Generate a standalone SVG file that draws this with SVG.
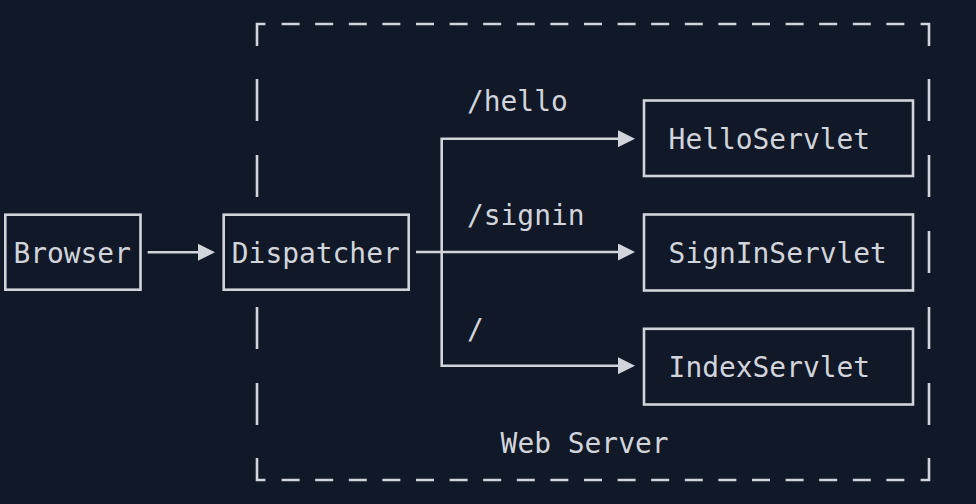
<svg xmlns="http://www.w3.org/2000/svg" width="976" height="504" viewBox="0 0 976 504">
  <style>
    .bg { fill: #111827; }
    .box { fill: none; stroke: #d1d5db; stroke-width: 2.6; }
    .line { fill: none; stroke: #d1d5db; stroke-width: 2.6; stroke-linejoin: miter; }
    .txt { font-family: "DejaVu Sans Mono", "Liberation Mono", monospace; font-size: 27.9px; fill: #d1d5db; }
  </style>
  <defs>
    <marker id="arrow" markerUnits="userSpaceOnUse" markerWidth="17" markerHeight="17" refX="0" refY="8.5" orient="auto">
      <path d="M0,0 L17,8.5 L0,17 Z" fill="#d1d5db"/>
    </marker>
  </defs>
  <rect class="bg" x="0" y="0" width="976" height="504"/>

  <g id="web-server">
    <path class="line" d="M257 46V24H265.4 M920.6 24H929V46 M257 458V480H265.4 M920.6 480H929V458"/>
    <line class="line" x1="281.6" y1="24" x2="904.4" y2="24" stroke-dasharray="18 15.6"/>
    <line class="line" x1="281.6" y1="480" x2="904.4" y2="480" stroke-dasharray="18 15.6"/>
    <path class="line" d="M257 79V121 M257 155V197 M257 307V349 M257 383V425"/>
    <line class="line" x1="929" y1="79" x2="929" y2="425" stroke-dasharray="42 34"/>
    <text class="txt" x="500.6" y="453">Web Server</text>
  </g>

  <g id="browser">
    <rect class="box" x="5.3" y="214.7" width="135.2" height="75"/>
    <text class="txt" x="13.4" y="263">Browser</text>
  </g>

  <g id="dispatcher">
    <rect class="box" x="223.7" y="214.7" width="185" height="75"/>
    <text class="txt" x="231.8" y="263">Dispatcher</text>
  </g>

  <g id="hello-servlet">
    <rect class="box" x="644" y="100.5" width="269" height="75.5"/>
    <text class="txt" x="668.6" y="149">HelloServlet</text>
  </g>

  <g id="signin-servlet">
    <rect class="box" x="644" y="214.5" width="269" height="76"/>
    <text class="txt" x="668.6" y="263">SignInServlet</text>
  </g>

  <g id="index-servlet">
    <rect class="box" x="644" y="328.8" width="269" height="75.7"/>
    <text class="txt" x="668.6" y="377">IndexServlet</text>
  </g>

  <g id="connectors">
    <path class="line" d="M147.7 252.3H198" marker-end="url(#arrow)"/>
    <path class="line" d="M416 252H618" marker-end="url(#arrow)"/>
    <path class="line" d="M441.7 252V138.7H618" marker-end="url(#arrow)"/>
    <path class="line" d="M441.7 252V365.7H618" marker-end="url(#arrow)"/>
    <text class="txt" x="467" y="111">/hello</text>
    <text class="txt" x="467" y="225">/signin</text>
    <text class="txt" x="467" y="339">/</text>
  </g>
</svg>
